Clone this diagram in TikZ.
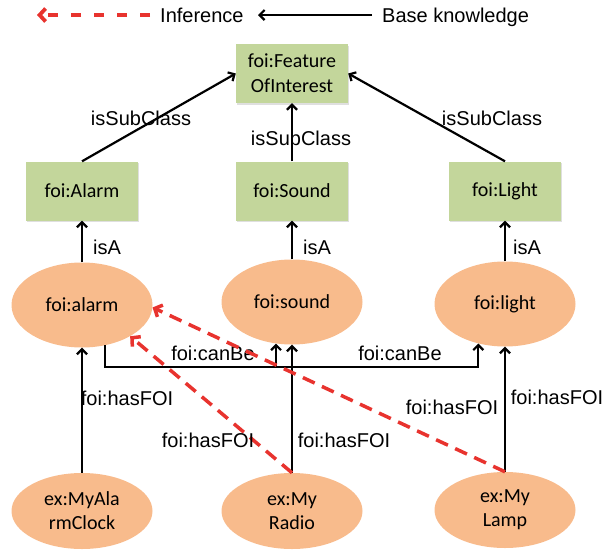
\documentclass[tikz,border=0pt]{standalone}
\usepackage{fontspec}
\setmainfont{Carlito}
\newfontfamily\labelfont{Liberation Sans}
\usetikzlibrary{arrows.meta,shapes.geometric,shadows}
\definecolor{boxgreen}{HTML}{C3D69B}
\definecolor{ovalorange}{HTML}{F8BB8C}
\definecolor{infred}{HTML}{E8332E}
\tikzset{
  classbox/.style={rectangle, fill=boxgreen, minimum width=112pt, minimum height=59pt,
    inner sep=0pt, align=center, font=\fontsize{20}{25}\selectfont,
    drop shadow={opacity=0.25, shadow xshift=1pt, shadow yshift=-1.5pt}},
  inst/.style={ellipse, fill=ovalorange, minimum width=141pt, minimum height=85pt,
    inner sep=0pt, align=center, font=\fontsize{20}{24}\selectfont},
  thing/.style={inst, minimum height=76pt},
  plainline/.style={draw=black, line width=2.2pt},
  base/.style={plainline, -{Straight Barb[length=5pt,width=10pt]}},
  infer/.style={draw=infred, line width=3.5pt, dash pattern=on 13pt off 8pt,
    -{Straight Barb[length=6pt,width=13pt]}},
  inferkey/.style={infer, line width=3.8pt, dash pattern=on 10pt off 13pt},
  lbl/.style={font=\labelfont\fontsize{20}{24}\selectfont, inner sep=0pt},
}
\begin{document}
\begin{tikzpicture}[x=1pt, y=-1pt]
\useasboundingbox (0,0) rectangle (603,550);

% legend
\node[lbl, anchor=base west] (inflbl) at (160,22.5) {Inference};
\node[lbl, anchor=base west] (baselbl) at (382,22.5) {Base knowledge};
\coordinate (infend) at (37,15);
\coordinate (baseend) at (258,15);
\draw[inferkey] ([xshift=-10pt]inflbl.west |- infend) -- (infend);
\draw[base] ([xshift=-10pt]baselbl.west |- baseend) -- (baseend);

% classes
\node[classbox] (foi) at (292,73.5) {foi:Feature\\OfInterest};
\node[classbox] (alarmbox) at (82,191) {foi:Alarm};
\node[classbox] (soundbox) at (292,191) {foi:Sound};
\node[classbox] (lightbox) at (505,191) {foi:Light};

% instances
\node[inst] (alarm) at (82,305) {foi:alarm};
\node[inst] (sound) at (292,302) {foi:sound};
\node[inst] (light) at (505,304) {foi:light};

\node[thing] (clock) at (82,511) {ex:MyAla\\rmClock};
\node[thing] (radio) at (292,511) {ex:My\\Radio};
\node[thing] (lamp) at (505,510) {ex:My\\Lamp};

% subclass links
\draw[base] (alarmbox.north) -- (foi.west);
\draw[base] (soundbox.north) -- (foi.south);
\draw[base] (lightbox.north) -- (foi.east);
\node[lbl] (sc1) at (141,118) {isSubClass};
\node[lbl] (sc2) at (301,138) {isSubClass};
\node[lbl] (sc3) at (492,118) {isSubClass};

% isA links
\draw[base] (alarm.north) -- (alarmbox.south);
\draw[base] (sound.north) -- (soundbox.south);
\draw[base] (light.north) -- (lightbox.south);
\node[lbl] (isa1) at (107,247) {isA};
\node[lbl] (isa2) at (317,247) {isA};
\node[lbl] (isa3) at (527,247) {isA};

% canBe links
\coordinate (cbrow) at (0,367);
\draw[base] (alarm.-60) |- (light.-124 |- cbrow) -- (light.-124);
\draw[base] (sound.-111 |- cbrow) -- (sound.-111);
\node[lbl] (cb1) at (213,353) {foi:canBe};
\node[lbl] (cb2) at (400,353) {foi:canBe};

% hasFOI links
\draw[base] (clock.north) -- (alarm.south);
\draw[base] (radio.north) -- (sound.south);
\draw[base] (lamp.north) -- (light.south);
\node[lbl] (hf1) at (127,398) {foi:hasFOI};
\node[lbl] (hf2) at (344,440) {foi:hasFOI};
\node[lbl] (hf3) at (557,397) {foi:hasFOI};

% inferred links
\draw[infer] (radio.north) -- (alarm.-33);
\draw[infer] (lamp.north) -- (alarm.-2);
\node[lbl] (hf4) at (208,440) {foi:hasFOI};
\node[lbl] (hf5) at (452,407) {foi:hasFOI};
\end{tikzpicture}
\end{document}
